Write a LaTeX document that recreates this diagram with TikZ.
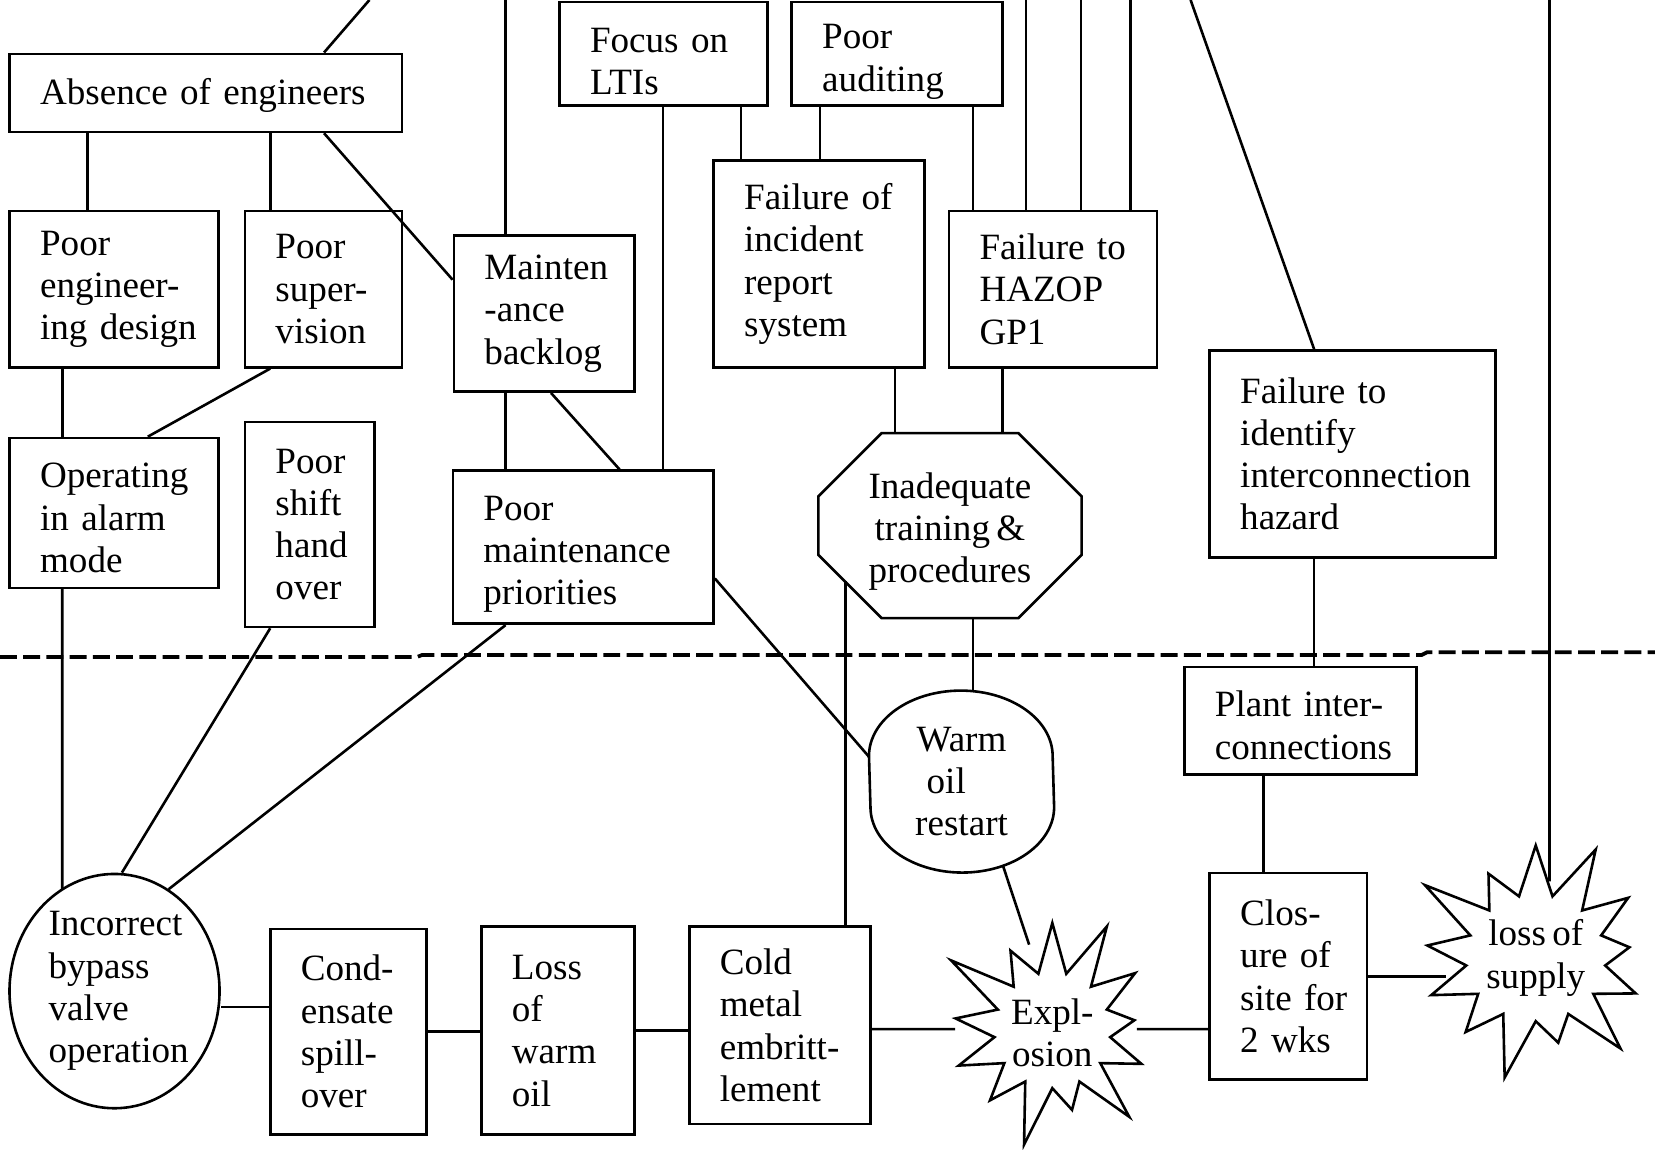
\documentclass[tikz,border=0pt]{standalone}
\usepackage{fontspec}
\setmainfont{Liberation Serif}
\usetikzlibrary{shapes.geometric,shapes.symbols}

\newcommand\tightwords{\hyphenpenalty=10000 \fontdimen2\font=1.7pt\relax}
\tikzset{
  cause/.style={draw, line width=0.7pt, inner xsep=0.29cm, inner ysep=0pt, align=left},
  link/.style={line width=0.7pt},
  burst/.style={draw, line width=0.7pt, starburst, starburst points=13,
                starburst point height=0.65cm, inner sep=0pt, align=center},
}

\begin{document}
\begin{tikzpicture}[font=\fontsize{10}{11.4}\selectfont\tightwords]
\useasboundingbox (0,0) rectangle (15.68,-10.89);
% Root causes
\node[cause, text width=3.14cm, minimum height=0.74cm] (abs) at (1.95,-0.88) {\rule{0pt}{0.3cm}Absence of engineers};
\node[cause, text width=1.39cm, minimum height=0.98cm] (focus) at (6.285,-0.51) {\rule{0pt}{0.38cm}Focus on\\LTIs};
\node[cause, text width=1.42cm, minimum height=0.98cm] (audit) at (8.50,-0.51) {\rule{0pt}{0.38cm}Poor\\auditing};
\node[cause, text width=1.40cm, minimum height=1.48cm] (peng) at (1.08,-2.74) {Poor\\engineer-\\\mbox{ing design}};
\node[cause, text width=0.91cm, minimum height=1.48cm] (psup) at (3.065,-2.74) {Poor\\super-\\vision};
\node[cause, text width=1.13cm, minimum height=1.48cm] (backlog) at (5.155,-2.97) {Mainten\\-ance\\backlog};
\node[cause, text width=1.42cm, minimum height=1.96cm] (incid) at (7.76,-2.50) {Failure of\\incident\\report\\system};
\node[cause, text width=1.39cm, minimum height=1.48cm] (hazop) at (9.975,-2.74) {Failure to\\HAZOP\\GP1};
\node[cause, text width=2.13cm, minimum height=1.96cm] (ident) at (12.815,-4.30) {Failure to\\identify\\interconnection\\hazard};
\node[cause, text width=1.40cm, minimum height=1.42cm] (alarm) at (1.08,-4.86) {\rule{0pt}{0.33cm}Operating\\in alarm\\mode};
\node[cause, text width=0.65cm, minimum height=1.94cm] (handover) at (2.935,-4.97) {Poor\\shift\\hand\\over};
\node[cause, text width=1.89cm, minimum height=1.45cm] (prio) at (5.525,-5.185) {\rule{0pt}{0.36cm}Poor\\maintenance\\priorities};
% Octagon
\node[minimum width=2.48cm, minimum height=1.74cm, inner sep=0pt, align=center] (train) at (9.00,-4.98) {\rule{0pt}{0.36cm}Inadequate\\training \&\\procedures};
\draw[link] ([xshift=0.6cm]train.north west) -- ([xshift=-0.6cm]train.north east)
  -- ([yshift=-0.6cm]train.north east) -- ([yshift=0.6cm]train.south east)
  -- ([xshift=-0.6cm]train.south east) -- ([xshift=0.6cm]train.south west)
  -- ([yshift=0.6cm]train.south west) -- ([yshift=-0.6cm]train.north west) -- cycle;

% Dividing line
\draw[line width=1pt, dash pattern=on 0.16cm off 0.06cm] (0,-6.225) -- (3.95,-6.225) -- (4.0,-6.205)
  -- (13.47,-6.205) -- (13.52,-6.18) -- (15.68,-6.18);

% Immediate events
\node[cause, text width=1.62cm, minimum height=1.02cm] (plant) at (12.32,-6.83) {\rule{0pt}{0.33cm}Plant inter-\\connections};
\node[minimum width=1.74cm, minimum height=1.71cm, inner sep=0pt, align=center] (warm) at (9.11,-7.405) {Warm\\\hspace*{-0.29cm}oil\\restart};
\draw[link] ([yshift=-0.62cm]warm.north west) arc[start angle=180, end angle=0, x radius=0.87cm, y radius=0.62cm]
  -- ([yshift=0.62cm]warm.south east) arc[start angle=0, end angle=-180, x radius=0.87cm, y radius=0.62cm] -- cycle;
\node[draw, ellipse, line width=0.7pt, minimum width=1.99cm, minimum height=2.22cm, inner sep=0pt,
      text width=1.25cm, align=left] (bypass) at (1.085,-9.39) {Incorrect\\bypass\\valve\\operation};
\node[cause, text width=0.90cm, minimum height=1.95cm] (cond) at (3.30,-9.775) {Cond-\\ensate\\spill-\\over};
\node[cause, text width=0.87cm, minimum height=1.97cm] (lossw) at (5.285,-9.765) {Loss\\of\\warm\\oil};
\node[cause, text width=1.14cm, minimum height=1.87cm] (cold) at (7.39,-9.715) {Cold\\metal\\embritt-\\lement};
\node[burst, minimum width=2.35cm, minimum height=2.4cm] (expl) at (9.97,-9.76) {\rule{0pt}{0.3cm}Expl-\\osion};
\node[cause, text width=0.91cm, minimum height=1.96cm] (closure) at (12.205,-9.25) {Clos-\\ure of\\\mbox{site for}\\2 wks};
\node[burst, minimum width=2.55cm, minimum height=2.5cm] (supply) at (14.55,-9.075) {loss of\\supply};

% Lines running off the top
\coordinate (t1) at (3.50,0);
\coordinate (t2) at (4.79,0);
\coordinate (t3) at (9.72,0);
\coordinate (t4) at (10.24,0);
\coordinate (t5) at (10.71,0);
\coordinate (t6) at (11.28,0);
\coordinate (t7) at (14.68,0);
\draw[link] ([xshift=1.12cm]abs.north) -- (t1);
\draw[link] (t2) -- (t2 |- backlog.north);
\draw[link] (t3) -- (t3 |- hazop.north);
\draw[link] (t4) -- (t4 |- hazop.north);
\draw[link] (t5) -- (t5 |- hazop.north);
\draw[link] (t6) -- ([xshift=-0.365cm]ident.north);
\draw[link] (t7) -- ([shift={(0.13cm,0.725cm)}]supply.center);

% Links between causes
\draw[link] ([xshift=-1.12cm]abs.south) -- ([xshift=-1.12cm]abs.south |- peng.north);
\draw[link] ([xshift=0.61cm]abs.south) -- ([xshift=0.61cm]abs.south |- psup.north);
\draw[link] ([xshift=1.12cm]abs.south) -- ([yshift=0.32cm]backlog.west);
\draw[link] ([xshift=0.755cm]prio.north) -- ([xshift=0.755cm]prio.north |- focus.south);
\draw[link] ([xshift=-0.74cm]incid.north) -- ([xshift=-0.74cm]incid.north |- focus.south);
\draw[link] ([xshift=0.01cm]incid.north) -- ([xshift=0.01cm]incid.north |- audit.south);
\draw[link] ([xshift=-0.755cm]hazop.north) -- ([xshift=-0.755cm]hazop.north |- audit.south);
\draw[link] ([xshift=-0.49cm]alarm.north) -- ([xshift=-0.49cm]alarm.north |- peng.south);
\draw[link] ([xshift=-0.505cm]psup.south) -- ([xshift=0.32cm]alarm.north);
\draw[link] ([xshift=-0.735cm]prio.north) -- ([xshift=-0.735cm]prio.north |- backlog.south);
\draw[link] ([xshift=0.065cm]backlog.south) -- ([xshift=0.345cm]prio.north);
\draw[link] ([xshift=-0.52cm]train.north) -- ([xshift=-0.52cm]train.north |- incid.south);
\draw[link] ([xshift=0.50cm]train.north) -- ([xshift=0.50cm]train.north |- hazop.south);
\draw[link] ([xshift=0.13cm]plant.north) -- ([xshift=0.13cm]plant.north |- ident.south);

% Links across the line
\draw[link] ([xshift=0.11cm]warm.north) -- ([xshift=0.11cm]warm.north |- train.south);
\draw[link] ([yshift=-0.295cm]prio.east) -- ([yshift=0.235cm]warm.west);
\draw[link] ([xshift=0.62cm]cold.north) -- ([shift={(-0.99cm,-0.52cm)}]train.center);
\draw[link] ([xshift=-0.235cm]closure.north) -- ([xshift=-0.235cm]closure.north |- plant.south);
\draw[link] ([shift={(0.39cm,-0.79cm)}]warm.center) -- ([shift={(-0.22cm,0.81cm)}]expl.center);
\draw[link] ([xshift=-0.49cm]alarm.south) -- ([shift={(-0.495cm,0.963cm)}]bypass.center);
\draw[link] ([xshift=-0.375cm]handover.south) -- ([xshift=0.07cm]bypass.north);
\draw[link] ([xshift=-0.735cm]prio.south) -- (bypass.62);

% Event chain
\draw[link] ([yshift=0.235cm]cond.west) -- ([yshift=0.235cm]cond.west -| bypass.east);
\draw[link] (cond.east) -- (cond.east -| lossw.west);
\draw[link] (lossw.east) -- (lossw.east -| cold.west);
\draw[link] ([yshift=-0.035cm]cold.east) -- ([shift={(-0.92cm,0.01cm)}]expl.center);
\draw[link] ([yshift=-0.50cm]closure.west) -- ([shift={(0.80cm,0.01cm)}]expl.center);
\draw[link] (closure.east) -- ([shift={(-0.85cm,-0.175cm)}]supply.center);
\end{tikzpicture}
\end{document}
